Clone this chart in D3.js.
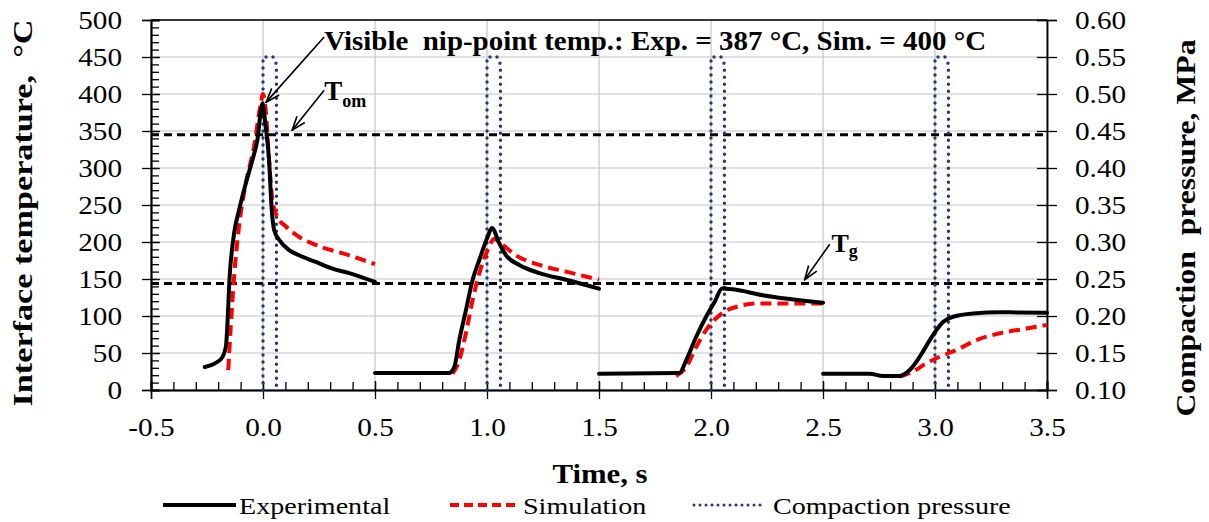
<!DOCTYPE html>
<html>
<head>
<meta charset="utf-8">
<script src="https://cdn.jsdelivr.net/npm/d3@7"></script>
<style>
  body { margin: 0; background: #fff; }
  text { font-family: "Liberation Serif", "Times New Roman", serif; white-space: pre; }
</style>
</head>
<body>
<div id="chart"></div>
<script>
// values: [time s, temperature °C]
const expCycle1 = [[-0.26, 31], [-0.19, 41], [-0.166, 58], [-0.147, 162], [-0.129, 212], [-0.107, 243],
  [-0.077, 279], [-0.047, 311], [-0.025, 338], [-0.003, 387], [0.012, 356], [0.027, 311], [0.039, 243],
  [0.05, 216], [0.072, 203], [0.117, 189], [0.161, 182], [0.236, 173], [0.31, 164], [0.385, 158], [0.5, 146]];
const expCycle2 = [[0.5, 23], [0.83, 23], [0.854, 31], [0.876, 67], [0.906, 108], [0.936, 149], [0.966, 176],
  [1.003, 207], [1.022, 219], [1.055, 198], [1.085, 182], [1.144, 169], [1.234, 158], [1.353, 149], [1.5, 137]];
const expCycle3 = [[1.5, 22], [1.859, 23], [1.889, 40], [1.934, 72], [1.978, 99], [2.016, 119], [2.05, 137],
  [2.097, 136], [2.231, 128], [2.5, 118]];
const expCycle4 = [[2.5, 22], [2.708, 22], [2.768, 19], [2.842, 19], [2.887, 27], [2.932, 45], [2.976, 67],
  [3.006, 81], [3.036, 92], [3.081, 99], [3.17, 103.5], [3.289, 105], [3.5, 104.5]];

const simCycle1 = [[-0.155, 27], [-0.144, 85], [-0.129, 153], [-0.107, 221], [-0.077, 279], [-0.04, 329],
  [-0.01, 387], [0, 400], [0.012, 378], [0.027, 311], [0.042, 257], [0.064, 234], [0.102, 221],
  [0.161, 207], [0.236, 196], [0.385, 182], [0.5, 170]];
const simCycle2 = [[0.846, 22], [0.876, 40], [0.906, 77], [0.936, 122], [0.966, 158], [1.003, 189],
  [1.032, 204], [1.07, 196], [1.129, 182], [1.234, 169], [1.353, 160], [1.5, 149]];
const simCycle3 = [[1.844, 19], [1.889, 31], [1.934, 58], [1.978, 81], [2.023, 97], [2.067, 107],
  [2.127, 113.5], [2.217, 117], [2.5, 117]];
const simCycle4 = [[2.842, 18], [2.902, 25], [2.961, 36], [3.021, 45], [3.095, 54], [3.185, 67.5],
  [3.289, 76.6], [3.408, 83], [3.5, 88]];

// compaction pressure pulses: [time s, MPa]
const pressure1 = [[0, 0.1], [0, 0.55], [0.045, 0.55], [0.06, 0.54], [0.06, 0.1]];
const pressure2 = [[1, 0.1], [1, 0.55], [1.045, 0.55], [1.06, 0.54], [1.06, 0.1]];
const pressure3 = [[2, 0.1], [2, 0.55], [2.045, 0.55], [2.06, 0.54], [2.06, 0.1]];
const pressure4 = [[3, 0.1], [3, 0.55], [3.045, 0.55], [3.06, 0.54], [3.06, 0.1]];

const tOm = 345;
const tG = 144;

const xTicks = [-0.5, 0, 0.5, 1, 1.5, 2, 2.5, 3, 3.5];
const yTicks = [0, 50, 100, 150, 200, 250, 300, 350, 400, 450, 500];
const pTicks = [0.1, 0.15, 0.2, 0.25, 0.3, 0.35, 0.4, 0.45, 0.5, 0.55, 0.6];

const legendNames = ['Experimental', 'Simulation', 'Compaction pressure'];

const width = 1209;
const height = 522;
const plotLeft = 151, plotRight = 1047, plotTop = 20, plotBottom = 390;

const x = d3.scaleLinear().domain([-0.5, 3.5]).range([plotLeft, plotRight]);
const y = d3.scaleLinear().domain([0, 500]).range([plotBottom, plotTop]);
const yP = d3.scaleLinear().domain([0.1, 0.6]).range([plotBottom, plotTop]);

const svg = d3.select('#chart').append('svg')
  .attr('width', width).attr('height', height);

svg.append('rect').attr('width', width).attr('height', height).attr('fill', '#fff');

const defs = svg.append('defs');
defs.append('marker')
  .attr('id', 'arrow')
  .attr('viewBox', '0 0 16 12')
  .attr('refX', 15).attr('refY', 6)
  .attr('markerWidth', 16).attr('markerHeight', 12)
  .attr('markerUnits', 'userSpaceOnUse')
  .attr('orient', 'auto')
  .append('path')
  .attr('d', 'M1,1 L15,6 L1,11')
  .attr('fill', 'none').attr('stroke', '#000').attr('stroke-width', 1.6);

// gridlines
svg.append('g').selectAll('line').data(yTicks).join('line')
  .attr('x1', plotLeft).attr('x2', plotRight)
  .attr('y1', d => y(d)).attr('y2', d => y(d))
  .attr('stroke', '#c4c4c4').attr('stroke-width', 1.2);
svg.append('g').selectAll('line').data(xTicks).join('line')
  .attr('x1', d => x(d)).attr('x2', d => x(d))
  .attr('y1', plotTop).attr('y2', plotBottom)
  .attr('stroke', '#c4c4c4').attr('stroke-width', 1.2);

// axes
const stretch = 1.17;
function styleTicks(g) {
  g.select('.domain').attr('stroke', '#000').attr('stroke-width', 1.5);
  g.selectAll('.tick line').attr('stroke', '#000').attr('stroke-width', 1.3);
  g.selectAll('text').attr('fill', '#000').style('font-size', '25px');
}

// minor ticks
svg.append('g').attr('transform', `translate(${plotLeft},0)`)
  .call(d3.axisLeft(y).tickValues(d3.range(0, 501, 10)).tickSize(-8).tickFormat(''))
  .call(styleTicks);
svg.append('g').attr('transform', `translate(0,${plotBottom})`)
  .call(d3.axisBottom(x).tickValues(d3.range(-5, 36, 1).map(d => d / 10)).tickSize(-8).tickFormat(''))
  .call(styleTicks);
// inner half of major ticks
svg.append('g').attr('transform', `translate(${plotLeft},0)`)
  .call(d3.axisLeft(y).tickValues(yTicks).tickSize(-9).tickFormat(''))
  .call(styleTicks);
svg.append('g').attr('transform', `translate(0,${plotBottom})`)
  .call(d3.axisBottom(x).tickValues(xTicks).tickSize(-9).tickFormat(''))
  .call(styleTicks);
svg.append('g').attr('transform', `translate(${plotRight},0)`)
  .call(d3.axisRight(yP).tickValues(pTicks).tickSize(-10).tickFormat(''))
  .call(styleTicks);

// labelled axes
svg.append('g').attr('transform', `translate(${plotLeft},0)`)
  .call(d3.axisLeft(y).tickValues(yTicks).tickSize(9).tickFormat(d3.format('d')))
  .call(styleTicks)
  .selectAll('text')
  .attr('x', -29 / stretch)
  .attr('transform', `scale(${stretch},1)`);

svg.append('g').attr('transform', `translate(0,${plotBottom})`)
  .call(d3.axisBottom(x).tickValues(xTicks).tickSize(9).tickFormat(d => d.toFixed(1)))
  .call(styleTicks)
  .selectAll('text')
  .attr('y', 46).attr('dy', 0)
  .attr('transform', `scale(${stretch},1)`);

svg.append('g').attr('transform', `translate(${plotRight},0)`)
  .call(d3.axisRight(yP).tickValues(pTicks).tickSize(10).tickFormat(d3.format('.2f')))
  .call(styleTicks)
  .selectAll('text')
  .attr('x', 28 / stretch)
  .attr('transform', `scale(${stretch},1)`);

// top border
svg.append('line')
  .attr('x1', plotLeft).attr('x2', plotRight).attr('y1', plotTop).attr('y2', plotTop)
  .attr('stroke', '#000').attr('stroke-width', 1.5);

// reference lines Tom and Tg
svg.append('g').selectAll('line').data([tOm, tG]).join('line')
  .attr('x1', plotLeft).attr('x2', plotRight)
  .attr('y1', d => y(d)).attr('y2', d => y(d))
  .attr('stroke', '#000').attr('stroke-width', 3)
  .attr('stroke-dasharray', '8,5');

// compaction pressure
const pLine = d3.line().x(d => x(d[0])).y(d => yP(d[1]));
svg.append('g').selectAll('path').data([pressure1, pressure2, pressure3, pressure4]).join('path')
  .attr('d', pLine)
  .attr('fill', 'none').attr('stroke', '#1f3a78').attr('stroke-width', 3.4)
  .attr('stroke-linecap', 'round').attr('stroke-dasharray', '0,7');

// temperature curves
const tLine = d3.line().x(d => x(d[0])).y(d => y(d[1])).curve(d3.curveMonotoneX);
svg.append('g').selectAll('path').data([simCycle1, simCycle2, simCycle3, simCycle4]).join('path')
  .attr('d', tLine)
  .attr('fill', 'none').attr('stroke', '#ff0000').attr('stroke-width', 4)
  .attr('stroke-dasharray', '11,6');
svg.append('g').selectAll('path').data([expCycle1, expCycle2, expCycle3, expCycle4]).join('path')
  .attr('d', tLine)
  .attr('fill', 'none').attr('stroke', '#000').attr('stroke-width', 4)
  .attr('stroke-linecap', 'round').attr('stroke-linejoin', 'round');

// annotations
svg.append('text')
  .attr('x', x(0.273)).attr('y', y(459))
  .attr('font-weight', 'bold').style('font-size', '27px')
  .attr('textLength', 662).attr('lengthAdjust', 'spacingAndGlyphs')
  .text('Visible  nip-point temp.: Exp. = 387 °C, Sim. = 400 °C');

const tomText = svg.append('text')
  .attr('x', x(0.273)).attr('y', y(392))
  .attr('font-weight', 'bold').style('font-size', '27px');
tomText.append('tspan').text('T');
tomText.append('tspan').attr('dy', 7).style('font-size', '18px').text('om');

const tgText = svg.append('text')
  .attr('x', x(2.538)).attr('y', y(186))
  .attr('font-weight', 'bold').style('font-size', '26px');
tgText.append('tspan').text('T');
tgText.append('tspan').attr('dy', 5).style('font-size', '18px').text('g');

const arrows = [
  [[0.273, 477], [0.014, 389]],
  [[0.273, 405], [0.13, 351]],
  [[2.53, 197], [2.418, 149]]
];
svg.append('g').selectAll('line').data(arrows).join('line')
  .attr('x1', d => x(d[0][0])).attr('y1', d => y(d[0][1]))
  .attr('x2', d => x(d[1][0])).attr('y2', d => y(d[1][1]))
  .attr('stroke', '#000').attr('stroke-width', 1.6)
  .attr('marker-end', 'url(#arrow)');

// axis titles
svg.append('text')
  .attr('transform', 'translate(32,213) rotate(-90)')
  .attr('text-anchor', 'middle')
  .attr('font-weight', 'bold').style('font-size', '27px')
  .attr('textLength', 387).attr('lengthAdjust', 'spacingAndGlyphs')
  .text('Interface temperature,  °C');

svg.append('text')
  .attr('transform', 'translate(1195,228) rotate(-90)')
  .attr('text-anchor', 'middle')
  .attr('font-weight', 'bold').style('font-size', '27px')
  .attr('textLength', 377).attr('lengthAdjust', 'spacingAndGlyphs')
  .text('Compaction  pressure, MPa');

svg.append('text')
  .attr('transform', 'translate(600,483) scale(1.14,1)')
  .attr('text-anchor', 'middle')
  .attr('font-weight', 'bold').style('font-size', '27px')
  .text('Time, s');

// legend
const legendStretch = 1.17;
const legend = svg.append('g');
const legendItems = [
  { name: legendNames[0], x0: 163, x1: 236, tx: 239, stroke: '#000', dash: null, cap: 'butt', w: 4 },
  { name: legendNames[1], x0: 450, x1: 516, tx: 523, stroke: '#ff0000', dash: '9,5', cap: 'butt', w: 4 },
  { name: legendNames[2], x0: 694, x1: 765, tx: 773, stroke: '#1f3a78', dash: '0,6', cap: 'round', w: 3 }
];
legendItems.forEach(d => {
  legend.append('line')
    .attr('x1', d.x0).attr('x2', d.x1).attr('y1', 505).attr('y2', 505)
    .attr('stroke', d.stroke).attr('stroke-width', d.w)
    .attr('stroke-linecap', d.cap)
    .attr('stroke-dasharray', d.dash);
  legend.append('text')
    .attr('transform', `translate(${d.tx},514) scale(${legendStretch},1)`)
    .style('font-size', '24px')
    .text(d.name);
});
</script>
</body>
</html>
